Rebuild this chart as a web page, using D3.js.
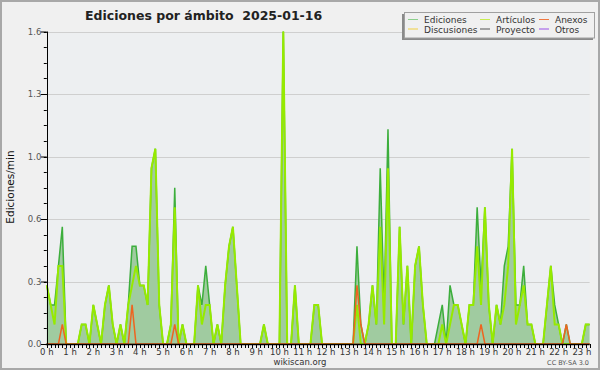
<!DOCTYPE html>
<html>
<head>
<meta charset="utf-8">
<script src="https://cdn.jsdelivr.net/npm/d3@7/dist/d3.min.js"></script>
<style>
  body { margin: 0; background: #f0f0f0; }
  svg { display: block; }
</style>
</head>
<body>
<svg id="chart" width="600" height="370"></svg>
<script>
// ---- data: ediciones/min, one value per 10 minutes starting 00:00 (one row = one hour) ----
const chartTitle = "Ediciones por ámbito";
const chartDate = "2025-01-16";
const hourLabels = ["0 h","1 h","2 h","3 h","4 h","5 h","6 h","7 h","8 h","9 h","10 h","11 h",
  "12 h","13 h","14 h","15 h","16 h","17 h","18 h","19 h","20 h","21 h","22 h","23 h"];

const ediciones = [
  0.3,0.2,0.2,0.4,0.6,0,
  0,0,0,0.1,0.1,0,
  0.2,0.1,0,0.2,0.3,0.1,
  0,0.1,0,0.2,0.5,0.5,
  0.3,0.3,0.2,0.9,1.0,0.2,
  0,0,0.1,0.8,0,0.1,
  0,0,0,0.3,0.2,0.4,
  0.2,0,0.1,0,0.3,0.5,
  0.6,0.3,0,0,0,0,
  0,0,0.1,0,0,0,
  0,1.6,0,0,0.3,0,
  0,0,0,0.2,0.2,0,
  0,0,0,0,0,0,
  0,0,0.5,0.1,0,0.1,
  0.3,0.1,0.9,0.2,1.1,0,
  0,0.6,0.1,0.4,0,0.4,
  0.5,0.2,0,0,0,0.1,
  0.2,0,0.3,0.2,0.2,0.1,
  0,0.2,0.2,0.7,0.3,0.7,
  0.2,0,0.2,0.1,0.4,0.5,
  1.0,0.2,0.2,0.4,0.1,0.1,
  0,0,0,0.2,0.4,0.2,
  0.1,0,0.1,0,0,0,
  0,0.1,0.1
];
const articulos = [
  0.3,0.2,0.1,0.4,0.4,0,
  0,0,0,0.1,0.1,0,
  0.2,0.1,0,0.2,0.3,0.1,
  0,0.1,0,0.2,0.3,0.4,
  0.3,0.3,0.2,0.9,1.0,0.2,
  0,0,0.1,0.7,0,0.1,
  0,0,0,0.3,0.1,0.2,
  0.2,0,0.1,0,0.3,0.5,
  0.6,0.3,0,0,0,0,
  0,0,0.1,0,0,0,
  0,1.6,0,0,0.3,0,
  0,0,0,0.2,0.2,0,
  0,0,0,0,0,0,
  0,0,0.2,0,0,0.1,
  0.3,0.1,0.6,0.1,0.9,0,
  0,0.6,0.1,0.4,0,0.4,
  0.5,0.2,0,0,0,0,
  0.1,0,0.1,0.2,0.2,0.1,
  0,0.2,0.2,0.5,0.2,0.7,
  0.2,0,0.2,0.1,0.2,0.4,
  1.0,0.1,0.2,0.3,0.1,0.1,
  0,0,0,0.2,0.4,0.1,
  0.1,0,0,0,0,0,
  0,0.1,0.1
];
const anexos = [
  0,0,0,0,0.1,0,  0,0,0,0,0,0,  0,0,0,0,0,0,  0,0,0,0,0.2,0,
  0,0,0,0,0,0,    0,0,0,0.1,0,0, 0,0,0,0,0,0,  0,0,0,0,0,0,
  0,0,0,0,0,0,    0,0,0,0,0,0,  0,0,0,0,0,0,  0,0,0,0,0,0,
  0,0,0,0,0,0,    0,0,0.3,0.1,0,0, 0,0,0,0,0,0, 0,0,0,0,0,0,
  0,0,0,0,0,0,    0,0,0,0,0,0,  0,0,0,0,0.1,0, 0,0,0,0,0,0,
  0,0,0,0,0,0,    0,0,0,0,0,0,  0,0,0.1,0,0,0, 0,0,0
];
const discusiones = [
  0,0,0,0,0,0,  0,0,0,0,0,0,  0,0,0,0,0,0,  0,0,0,0,0,0,
  0,0,0,0,0,0,  0,0,0,0,0,0,  0,0,0,0,0,0,  0,0,0,0,0,0,
  0,0,0,0,0,0,  0,0,0,0,0,0,  0,0,0,0,0,0,  0,0,0,0,0,0,
  0,0,0,0,0,0,  0,0,0,0,0,0,  0,0,0,0,0,0,  0,0,0,0,0,0,
  0,0,0,0,0,0,  0,0,0,0,0,0,  0,0,0,0,0,0,  0,0,0,0,0,0,
  0,0,0,0,0,0,  0,0,0,0,0,0,  0,0,0,0,0,0,  0,0,0
];
const proyecto = discusiones.slice();
const otros = discusiones.slice();

const legendNames  = ["Ediciones","Discusiones","Artículos","Proyecto","Anexos","Otros"];
const legendColors = ["#8ccf8c","#f0d040","#c8ec50","#555555","#f07840","#9a50e8"];

// ---- layout ----
const W = 600, H = 370;
const plot = { left: 46.8, right: 589.6, top: 31.5, bottom: 344 };

const svg = d3.select("#chart");

svg.append("rect").attr("x", 0).attr("y", 0).attr("width", W).attr("height", H)
  .attr("fill", "#f0f0f0");
svg.append("rect").attr("x", 1).attr("y", 1).attr("width", W - 2).attr("height", H - 2)
  .attr("fill", "none").attr("stroke", "#a8a8a8").attr("stroke-width", 2);

svg.append("rect")
  .attr("x", plot.left).attr("y", plot.top)
  .attr("width", plot.right - plot.left).attr("height", plot.bottom - plot.top)
  .attr("fill", "#edeff1");

const x = d3.scaleLinear().domain([0, (ediciones.length - 1) * 10]).range([plot.left, plot.right]);
const y = d3.scaleLinear().domain([0, 1.6]).range([plot.bottom, plot.top]);

// grid
const gridVals = [0.32, 0.64, 0.96, 1.28, 1.6];
svg.append("g").selectAll("line").data(gridVals).join("line")
  .attr("x1", plot.left).attr("x2", plot.right)
  .attr("y1", d => Math.round(y(d)) + 0.5).attr("y2", d => Math.round(y(d)) + 0.5)
  .attr("stroke", "#cfcfcf").attr("stroke-width", 1);

// series
const pts = arr => arr.map((v, i) => [i * 10, v]);
const line = d3.line().x(d => x(d[0])).y(d => y(d[1]));
const area = d3.area().x(d => x(d[0])).y0(y(0)).y1(d => y(d[1]));

svg.append("path").attr("d", area(pts(ediciones))).attr("fill", "#a0cba0");

const drawLine = (arr, color, width) =>
  svg.append("path").attr("d", line(pts(arr)))
    .attr("fill", "none").attr("stroke", color).attr("stroke-width", width)
    .attr("stroke-linejoin", "miter");

drawLine(ediciones, "#3cae3c", 1.5);
drawLine(otros, "#9a50e8", 1.2);
drawLine(proyecto, "#555555", 1.2);
drawLine(discusiones, "#f0d040", 1.2);
drawLine(articulos, "#96ea00", 2);
drawLine(anexos, "#ee6420", 1.5);

// axes
const yAxis = d3.axisLeft(y).tickValues([0].concat(gridVals)).tickSize(6)
  .tickFormat(d3.format(".1f"));
const gy = svg.append("g").attr("transform", `translate(${plot.left},0)`).call(yAxis);
gy.select(".domain").remove();
gy.selectAll(".tick line").attr("stroke", "#000");
gy.selectAll(".tick text").attr("x", -5.5).attr("dy", "0.32em")
  .attr("font-family", "DejaVu Sans").attr("font-size", 8.5).attr("fill", "#555");

const yMinor = d3.range(0, 21).map(k => k * 0.08);
svg.append("g").selectAll("line").data(yMinor).join("line")
  .attr("x1", plot.left - 3).attr("x2", plot.left)
  .attr("y1", d => Math.round(y(d)) + 0.5).attr("y2", d => Math.round(y(d)) + 0.5)
  .attr("stroke", "#000");

const xMinor = d3.range(0, ediciones.length).map(k => k * 10);
svg.append("g").selectAll("line").data(xMinor).join("line")
  .attr("x1", d => Math.round(x(d)) + 0.5).attr("x2", d => Math.round(x(d)) + 0.5)
  .attr("y1", plot.bottom).attr("y2", plot.bottom + 4)
  .attr("stroke", "#000");

svg.append("g").selectAll("text").data(hourLabels).join("text")
  .attr("x", (d, i) => x(i * 60)).attr("y", 355)
  .attr("text-anchor", "middle")
  .attr("font-family", "DejaVu Sans").attr("font-size", 8.5).attr("fill", "#333")
  .text(d => d);

svg.append("line").attr("x1", Math.round(plot.left) + 0.5).attr("x2", Math.round(plot.left) + 0.5)
  .attr("y1", plot.top).attr("y2", plot.bottom + 0.5).attr("stroke", "#000");
svg.append("line").attr("x1", plot.left - 1).attr("x2", plot.right)
  .attr("y1", plot.bottom + 0.5).attr("y2", plot.bottom + 0.5).attr("stroke", "#000").attr("stroke-width", 1.5);

// titles
svg.append("text").attr("x", 85).attr("y", 20)
  .attr("font-family", "DejaVu Sans").attr("font-weight", "bold").attr("font-size", 12.5)
  .attr("fill", "#222").style("white-space", "pre")
  .text(chartTitle + "  " + chartDate);

svg.append("text")
  .attr("transform", "translate(14,187) rotate(-90)")
  .attr("text-anchor", "middle")
  .attr("font-family", "DejaVu Sans").attr("font-size", 10.5).attr("fill", "#111")
  .text("Ediciones/min");

svg.append("text").attr("x", 300).attr("y", 365).attr("text-anchor", "middle")
  .attr("font-family", "DejaVu Sans").attr("font-size", 8.5).attr("fill", "#333")
  .text("wikiscan.org");
svg.append("text").attr("x", 589).attr("y", 365).attr("text-anchor", "end")
  .attr("font-family", "DejaVu Sans").attr("font-size", 6.5).attr("fill", "#555")
  .text("CC BY-SA 3.0");

// legend
const lg = svg.append("g");
lg.append("rect").attr("x", 402).attr("y", 14).attr("width", 191).attr("height", 26)
  .attr("fill", "#8a8a8a");
lg.append("rect").attr("x", 404.5).attr("y", 12.5).attr("width", 190).attr("height", 25.5)
  .attr("fill", "#f0f0f0").attr("stroke", "#a0a0a0");
const colX = [408, 480, 539];
const rowY = [19.5, 29];
legendNames.forEach((name, k) => {
  const cx = colX[Math.floor(k / 2)], cy = rowY[k % 2];
  lg.append("line").attr("x1", cx).attr("x2", cx + 10).attr("y1", cy).attr("y2", cy)
    .attr("stroke", legendColors[k]).attr("stroke-width", 1);
  lg.append("text").attr("x", cx + 16).attr("y", cy + 3.5)
    .attr("font-family", "DejaVu Sans").attr("font-size", 9).attr("fill", "#333")
    .text(name);
});
</script>
</body>
</html>
